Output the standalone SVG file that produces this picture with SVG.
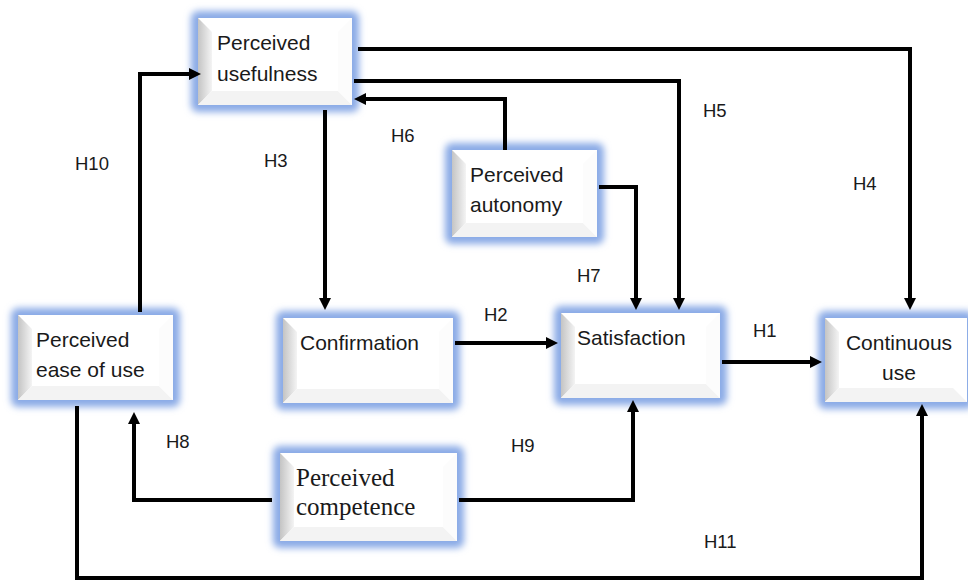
<svg xmlns="http://www.w3.org/2000/svg" width="968" height="583" viewBox="0 0 968 583">
  <style>
    .glow { fill: #8aaae6; filter: url(#blur); }
    .face { fill: #ffffff; }
    .lb { fill: url(#gl); }
    .bb { fill: #f3f3f3; }
    .rb { fill: #fcfcfc; }
    .t { font-family: "Liberation Sans", Arial, sans-serif; font-size: 21px; fill: #1a1a1a; }
    .ts { font-family: "Liberation Serif", "Times New Roman", serif; font-size: 25px; fill: #1a1a1a; }
    .h { font-family: "Liberation Sans", Arial, sans-serif; font-size: 18.5px; fill: #1a1a1a; }
    .c { fill: none; stroke: #000; stroke-width: 4; stroke-linejoin: miter; marker-end: url(#arr); }
  </style>
  <defs>
    <filter id="blur" x="-20%" y="-20%" width="140%" height="140%">
      <feGaussianBlur stdDeviation="3.5"/>
    </filter>
    <linearGradient id="gl" x1="0" y1="0" x2="1" y2="0">
      <stop offset="0" stop-color="#c4c4c4"/>
      <stop offset="1" stop-color="#f4f4f4"/>
    </linearGradient>
    <marker id="arr" markerUnits="userSpaceOnUse" viewBox="0 0 12 12" markerWidth="12" markerHeight="12" refX="1" refY="6" orient="auto">
      <path d="M0,0 L12,6 L0,12 z" fill="#000"/>
    </marker>
  </defs>

  <rect width="968" height="583" fill="#ffffff"/>

  <g id="perceived-usefulness">
    <rect class="glow" x="191" y="11" width="168" height="101" rx="7"/>
    <rect class="face" x="198" y="18" width="154" height="87"/>
    <polygon class="lb" points="198,18 212,32 212,91 198,105"/>
    <polygon class="bb" points="198,105 212,91 338,91 352,105"/>
    <polygon class="rb" points="352,18 338,32 338,91 352,105"/>
    <text class="t" x="217" y="50">Perceived</text>
    <text class="t" x="217" y="81">usefulness</text>
  </g>

  <g id="perceived-autonomy">
    <rect class="glow" x="445" y="143" width="159" height="101" rx="7"/>
    <rect class="face" x="452" y="150" width="145" height="87"/>
    <polygon class="lb" points="452,150 466,164 466,223 452,237"/>
    <polygon class="bb" points="452,237 466,223 583,223 597,237"/>
    <polygon class="rb" points="597,150 583,164 583,223 597,237"/>
    <text class="t" x="470" y="182">Perceived</text>
    <text class="t" x="470" y="212">autonomy</text>
  </g>

  <g id="perceived-ease-of-use">
    <rect class="glow" x="11" y="308" width="169" height="99" rx="7"/>
    <rect class="face" x="18" y="315" width="155" height="85"/>
    <polygon class="lb" points="18,315 32,329 32,386 18,400"/>
    <polygon class="bb" points="18,400 32,386 159,386 173,400"/>
    <polygon class="rb" points="173,315 159,329 159,386 173,400"/>
    <text class="t" x="36" y="347">Perceived</text>
    <text class="t" x="36" y="377">ease of use</text>
  </g>

  <g id="confirmation">
    <rect class="glow" x="276" y="311" width="184" height="99" rx="7"/>
    <rect class="face" x="283" y="318" width="170" height="85"/>
    <polygon class="lb" points="283,318 297,332 297,389 283,403"/>
    <polygon class="bb" points="283,403 297,389 439,389 453,403"/>
    <polygon class="rb" points="453,318 439,332 439,389 453,403"/>
    <text class="t" x="300" y="350">Confirmation</text>
  </g>

  <g id="satisfaction">
    <rect class="glow" x="554" y="306" width="173" height="99" rx="7"/>
    <rect class="face" x="561" y="313" width="159" height="85"/>
    <polygon class="lb" points="561,313 575,327 575,384 561,398"/>
    <polygon class="bb" points="561,398 575,384 706,384 720,398"/>
    <polygon class="rb" points="720,313 706,327 706,384 720,398"/>
    <text class="t" x="577" y="345">Satisfaction</text>
  </g>

  <g id="continuous-use">
    <rect class="glow" x="818" y="311" width="156" height="98" rx="7"/>
    <rect class="face" x="825" y="318" width="142" height="84"/>
    <polygon class="lb" points="825,318 839,332 839,388 825,402"/>
    <polygon class="bb" points="825,402 839,388 953,388 967,402"/>
    <text class="t" x="899" y="350" text-anchor="middle">Continuous</text>
    <text class="t" x="899" y="380" text-anchor="middle">use</text>
  </g>

  <g id="perceived-competence">
    <rect class="glow" x="273" y="446" width="191" height="102" rx="7"/>
    <rect class="face" x="280" y="453" width="177" height="88"/>
    <polygon class="lb" points="280,453 294,467 294,527 280,541"/>
    <polygon class="bb" points="280,541 294,527 443,527 457,541"/>
    <polygon class="rb" points="457,453 443,467 443,527 457,541"/>
    <text class="ts" x="296" y="486">Perceived</text>
    <text class="ts" x="296" y="515">competence</text>
  </g>

  <g id="connectors">
    <path class="c" d="M358,49 H910 V299"/>
    <path class="c" d="M354,81 H679 V299"/>
    <path class="c" d="M505,150 V99 H365"/>
    <path class="c" d="M599,187 H636 V299"/>
    <path class="c" d="M325,110 V299"/>
    <path class="c" d="M455,343 H547"/>
    <path class="c" d="M722,362 H811"/>
    <path class="c" d="M140,312 V74 H190"/>
    <path class="c" d="M77,406 V578 H922 V415"/>
    <path class="c" d="M272,500 H134 V423"/>
    <path class="c" d="M459,500 H633 V411"/>
  </g>

  <g id="labels">
    <text class="h" x="75" y="170">H10</text>
    <text class="h" x="264" y="167">H3</text>
    <text class="h" x="391" y="142">H6</text>
    <text class="h" x="703" y="117">H5</text>
    <text class="h" x="853" y="190">H4</text>
    <text class="h" x="577" y="282">H7</text>
    <text class="h" x="484" y="321">H2</text>
    <text class="h" x="753" y="337">H1</text>
    <text class="h" x="166" y="448">H8</text>
    <text class="h" x="511" y="452">H9</text>
    <text class="h" x="704" y="548">H11</text>
  </g>
</svg>
